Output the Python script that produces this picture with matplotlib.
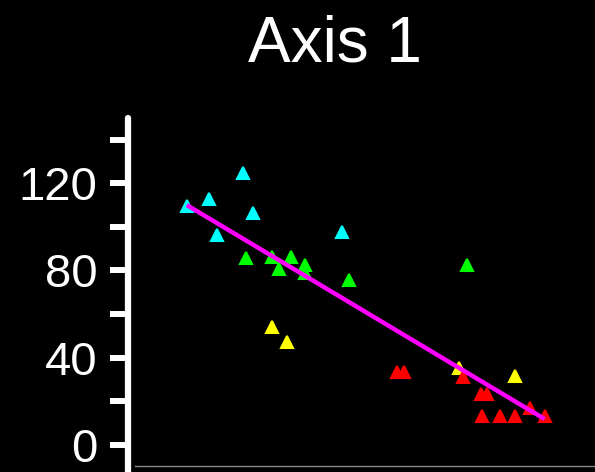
import numpy as np
import matplotlib
matplotlib.use("Agg")
import matplotlib.pyplot as plt

plt.rcParams['font.family'] = ['Liberation Sans', 'DejaVu Sans']

cyan_x = [24.6, 17.4, 12.6, 26.8, 19.0, 45.8]
cyan_y = [124.6, 112.9, 109.6, 106.2, 96.1, 97.8]
green_x = [25.3, 30.8, 34.8, 32.4, 38.0, 38.0, 47.3, 72.6]
green_y = [85.9, 86.0, 86.0, 80.7, 82.5, 78.9, 75.7, 82.5]
yellow_x = [30.8, 34.0, 70.9, 82.9]
yellow_y = [54.0, 47.1, 35.3, 31.8]
red_x = [57.5, 59.2, 71.8, 75.6, 76.8, 75.7, 79.7, 82.9, 86.1, 89.2]
red_y = [33.6, 33.6, 31.3, 23.4, 23.4, 13.4, 13.4, 13.4, 16.8, 13.4]

title = "Axis 1"
major_ticks = [0, 40, 80, 120]
minor_ticks = [20, 60, 100, 140]

fig = plt.figure(figsize=(5.95, 4.72), dpi=100, facecolor='black')
ax = fig.add_axes([128 / 595, 0.0, 1 - 128 / 595, (472 - 117.8) / 472])
ax.set_facecolor('black')

groups = [(cyan_x, cyan_y, '#00ffff'), (green_x, green_y, '#00ff00'),
          (yellow_x, yellow_y, '#ffff00'), (red_x, red_y, '#ff0000')]
for gx, gy, c in groups:
    ax.plot(gx, gy, linestyle='none', marker='^', markersize=8.5,
            markerfacecolor=c, markeredgecolor=c, markeredgewidth=1.5,
            zorder=3)

all_x = np.array(cyan_x + green_x + yellow_x + red_x)
all_y = np.array(cyan_y + green_y + yellow_y + red_y)
slope, intercept = np.polyfit(all_x, all_y, 1)
lx = np.array([all_x.min(), all_x.max()])
ax.plot(lx, slope * lx + intercept, color='#ff00ff', lw=3.2,
        solid_capstyle='butt', zorder=4)

ax.set_xlim(0, 100)
ax.set_ylim((445 - 472) / 2.181, 150)

ax.set_yticks(major_ticks)
ax.set_yticklabels([str(t) for t in major_ticks])
ax.set_yticks(minor_ticks, minor=True)
ax.set_xticks([])

ax.tick_params(axis='y', which='both', colors='white', direction='out',
               length=13, width=4.3, pad=9, labelsize=34)

for s in ['top', 'right']:
    ax.spines[s].set_visible(False)
ax.spines['left'].set_color('white')
ax.spines['left'].set_linewidth(4.5)
ax.spines['left'].set_capstyle('round')
ax.spines['bottom'].set_position(('data', -9.6))
ax.spines['bottom'].set_color('#888888')
ax.spines['bottom'].set_linewidth(1.0)
ax.spines['bottom'].set_bounds(1.5, 100)

fig.text(335 / 595, 1 - 62 / 472, title, color='white', fontsize=46,
         ha='center', va='baseline')

fig.savefig('out.png', dpi=100, facecolor='black')
